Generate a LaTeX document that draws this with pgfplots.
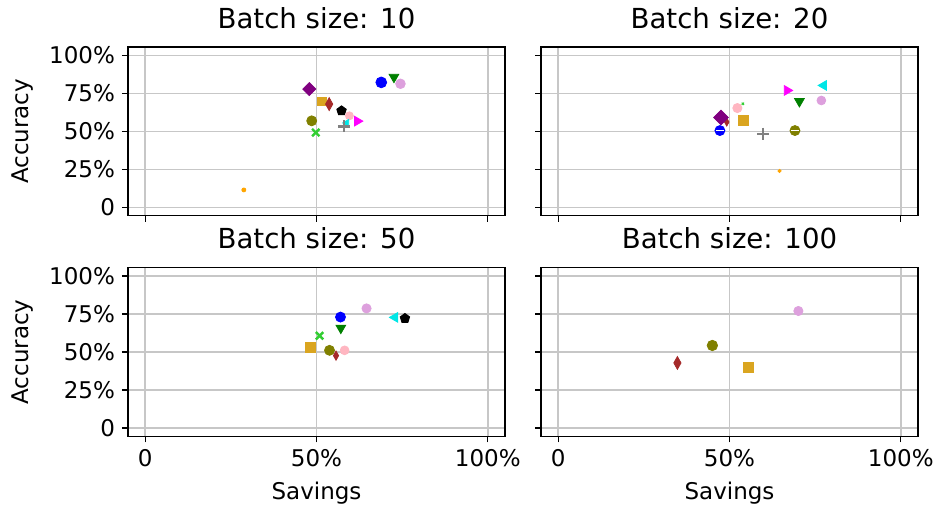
\documentclass[border=0pt]{standalone}
\usepackage{pgfplots}
\pgfplotsset{compat=1.18}
\usepackage{fontspec}
\setmainfont{DejaVu Sans}
\definecolor{cblue}{RGB}{0,0,255}
\definecolor{cgreen}{RGB}{0,128,0}
\definecolor{cplum}{RGB}{221,160,221}
\definecolor{cpurple}{RGB}{128,0,128}
\definecolor{cgold}{RGB}{218,165,32}
\definecolor{cbrown}{RGB}{165,42,42}
\definecolor{colive}{RGB}{128,128,0}
\definecolor{clime}{RGB}{50,205,50}
\definecolor{ccyan}{RGB}{0,230,230}
\definecolor{cmag}{RGB}{255,0,255}
\definecolor{cpink}{RGB}{255,182,193}
\definecolor{cgray}{RGB}{128,128,128}
\definecolor{corange}{RGB}{255,165,0}
\pgfplotsset{
 every axis title shift=0pt,
 panel/.style={
  scale only axis, width=188.5pt, height=84.3pt,
  anchor=north west,
  xmin=-5, xmax=105, ymin=-5.5, ymax=105.5,
  xtick={0,50,100}, ytick={0,25,50,75,100},
  xticklabels={0,50\%,100\%}, yticklabels={0,25\%,50\%,75\%,100\%},
  grid=major, major grid style={draw=black!22, line width=0.7pt},
  tick align=outside, tick pos=left, major tick length=3pt,
  axis line style={line width=0.7pt}, tick style={line width=0.6pt, black},
  ticklabel style={font=\fontsize{11.5}{13}\selectfont},
  label style={font=\fontsize{11.5}{13}\selectfont},
  title style={font=\fontsize{13.8}{16}\selectfont, at={(axis description cs:0.5,1)}, anchor=base, yshift=9.5pt},
  /pgf/number format/assume math mode=true,
  ylabel style={at={(axis description cs:-0.2785,0.5)}, anchor=center},
  xlabel style={at={(axis description cs:0.5,-0.34)}, anchor=center},
 },
 circ/.style={only marks, mark=*, mark size=2.5pt, color=#1},
 sq/.style={only marks, mark=square*, mark size=2.2pt, color=cgold},
 dd/.style={only marks, mark=diamond*, mark size=3.2pt, color=cbrown, mark options={xscale=0.75}},
 DD/.style={only marks, mark=square*, mark size=2.3pt, color=cpurple, mark options={rotate=45}},
 tv/.style={only marks, mark=triangle*, mark size=2.8pt, color=cgreen, mark options={rotate=180}},
 tr/.style={only marks, mark=triangle*, mark size=2.8pt, color=cmag, mark options={rotate=-90}},
 tl/.style={only marks, mark=triangle*, mark size=2.8pt, color=ccyan, mark options={rotate=90}},
 pent/.style={only marks, mark=pentagon*, mark size=2.5pt, color=black},
 pl/.style={only marks, mark=+, mark size=3pt, color=cgray, mark options={line width=1.2pt}},
 xx/.style={only marks, mark=x, mark size=2.6pt, color=clime, mark options={line width=1.2pt}},
}
\begin{document}
\begin{tikzpicture}
\path[use as bounding box] (0,0) rectangle (469pt,-252.5pt);
% Batch size 10
\begin{axis}[panel, at={(64pt,-23.5pt)}, title={Batch size: 10}, ylabel={Accuracy}, xticklabels={}]
\addplot[circ=corange, mark size=1pt] coordinates {(28.8,11.4)};
\addplot[circ=cblue, mark size=2.7pt] coordinates {(68.9,82.2)};
\addplot[tv] coordinates {(72.6,85.7)};
\addplot[circ=cplum, mark size=2.4pt] coordinates {(74.5,81.3)};
\addplot[DD] coordinates {(47.9,77.8)};
\addplot[sq] coordinates {(51.6,69.7)};
\addplot[dd] coordinates {(53.7,67.9)};
\addplot[pent] coordinates {(57.3,63.5)};
\addplot[circ=cpink, mark size=2pt] coordinates {(59.6,60.2)};
\addplot[tr] coordinates {(61.9,56.7)};
\addplot[circ=colive] coordinates {(48.6,56.9)};
\addplot[tl, mark size=2pt] coordinates {(58.8,55.5)};
\addplot[pl] coordinates {(58.0,53.2)};
\addplot[xx] coordinates {(49.8,49.2)};
\end{axis}
% Batch size 20
\begin{axis}[panel, at={(270.5pt,-23.5pt)}, title={Batch size: 20}, xticklabels={}, yticklabels={}]
\addplot[circ=corange, mark size=0.8pt] coordinates {(64.6,23.9)};
\addplot[tr] coordinates {(66.8,76.9)};
\addplot[tl] coordinates {(77.5,80.2)};
\addplot[tv] coordinates {(70.4,69.7)};
\addplot[circ=cplum, mark size=2.2pt] coordinates {(76.8,70.3)};
\addplot[circ=cpink, mark size=2.3pt] coordinates {(52.3,65.3)};
\addplot[xx, mark size=0.8pt, mark options={line width=0.5pt}] coordinates {(53.9,68.1)};
\addplot[dd, mark size=2pt] coordinates {(49.2,56.1)};
\addplot[DD, mark size=2.6pt] coordinates {(47.5,59.1)};
\addplot[sq, mark size=2.5pt] coordinates {(54.0,57.1)};
\addplot[circ=cblue] coordinates {(47.2,50.5)};
\addplot[only marks, mark=-, mark size=2pt, color=white, mark options={line width=0.5pt}] coordinates {(47.2,50.5)};
\addplot[pl] coordinates {(59.8,48.4)};
\addplot[circ=colive] coordinates {(69.1,50.5)};
\addplot[only marks, mark=-, mark size=2pt, color=white, mark options={line width=0.5pt}] coordinates {(69.1,50.5)};
\end{axis}
% Batch size 50
\begin{axis}[panel, at={(64pt,-133.85pt)}, title={Batch size: 50}, ylabel={Accuracy}, xlabel={Savings}]
\addplot[circ=cplum, mark size=2.3pt] coordinates {(64.6,78.7)};
\addplot[circ=cblue] coordinates {(57.0,73.0)};
\addplot[tl] coordinates {(72.9,72.8)};
\addplot[pent] coordinates {(75.8,72.1)};
\addplot[tv] coordinates {(57.1,65.8)};
\addplot[xx] coordinates {(50.9,60.7)};
\addplot[sq, mark size=2.5pt] coordinates {(48.2,53.3)};
\addplot[circ=cpink, mark size=2.2pt] coordinates {(58.2,51.1)};
\addplot[circ=colive] coordinates {(53.8,51.1)};
\addplot[dd, mark size=2.3pt] coordinates {(55.7,47.6)};
\end{axis}
% Batch size 100
\begin{axis}[panel, at={(270.5pt,-133.85pt)}, title={Batch size: 100}, xlabel={Savings}, yticklabels={}]
\addplot[circ=cplum, mark size=2.3pt] coordinates {(70.1,77.0)};
\addplot[circ=colive, mark size=2.6pt] coordinates {(45.0,54.3)};
\addplot[dd] coordinates {(34.8,42.8)};
\addplot[sq, mark size=2.5pt] coordinates {(55.4,40.1)};
\end{axis}
\end{tikzpicture}
\end{document}
